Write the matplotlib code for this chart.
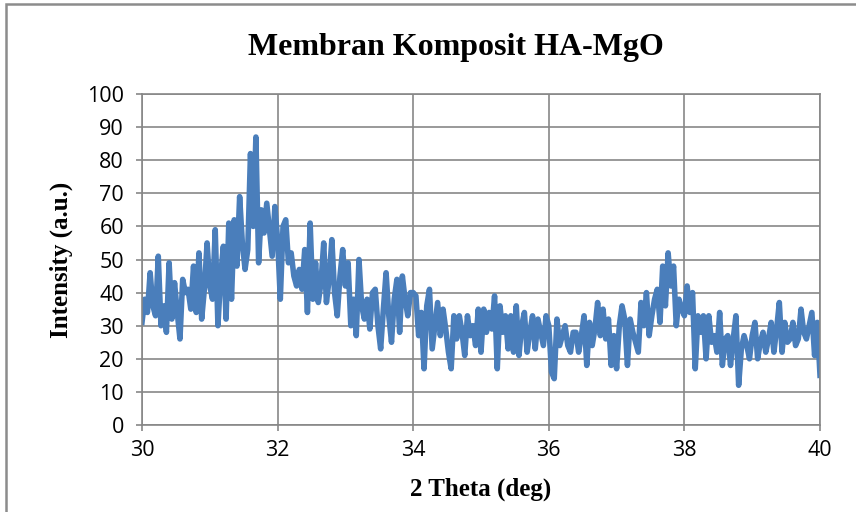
import matplotlib.pyplot as plt
import numpy as np
from matplotlib.patches import Rectangle

# XRD scan of the HA-MgO composite membrane, 0.04 deg steps from 30 to 40
two_theta = np.linspace(30.0, 40.0, 251)
intensity = [
    # 30.00 - 30.96
    31, 38, 34, 46, 36, 33, 51, 30, 36, 28, 49, 32, 43, 34, 26, 44, 40, 41, 35, 48, 34, 52, 32, 41, 55,
    # 31.00 - 31.96
    42, 38, 59, 30, 45, 54, 32, 61, 38, 62, 48, 69, 55, 47, 53, 82, 60, 87, 49, 65, 58, 67, 59, 51, 66,
    # 32.00 - 32.96
    56, 38, 60, 62, 49, 52, 45, 42, 47, 41, 53, 34, 61, 38, 49, 37, 43, 55, 37, 44, 56, 40, 33, 45, 53,
    # 33.00 - 33.96
    42, 49, 30, 38, 27, 50, 36, 32, 38, 29, 40, 41, 30, 23, 35, 46, 33, 25, 38, 44, 28, 45, 38, 33, 40,
    # 34.00 - 34.96
    40, 39, 27, 34, 17, 36, 41, 23, 30, 37, 27, 35, 29, 22, 17, 33, 26, 33, 28, 21, 33, 27, 30, 24, 35,
    # 35.00 - 35.96
    22, 35, 28, 34, 29, 39, 17, 36, 28, 33, 23, 33, 22, 36, 21, 30, 34, 22, 28, 33, 23, 32, 28, 24, 33,
    # 36.00 - 36.96
    30, 16, 14, 32, 24, 27, 30, 24, 22, 28, 28, 22, 27, 33, 18, 31, 24, 29, 37, 27, 35, 26, 32, 18, 27,
    # 37.00 - 37.96
    17, 30, 36, 32, 18, 32, 28, 25, 22, 37, 30, 40, 27, 33, 38, 41, 31, 48, 36, 52, 42, 48, 30, 38, 35,
    # 38.00 - 38.96
    33, 42, 34, 40, 17, 33, 28, 33, 20, 33, 25, 27, 22, 34, 18, 26, 27, 18, 26, 33, 12, 23, 27, 24, 20,
    # 39.00 - 40.00
    27, 31, 20, 25, 28, 22, 26, 31, 22, 29, 37, 22, 31, 25, 26, 31, 24, 26, 35, 28, 26, 30, 34, 21, 31, 15,
]

x_ticks = [30, 32, 34, 36, 38, 40]
y_ticks = list(range(0, 101, 10))

grid_color = '#878787'
line_color = '#4A7EBB'

fig = plt.figure(figsize=(8.56, 5.12), dpi=100)
ax = fig.add_axes([142 / 856, 1 - 425 / 512, (820 - 142) / 856, (425 - 94) / 512])

ax.plot(two_theta, intensity, color=line_color, linewidth=4.0, solid_joinstyle='round')

ax.set_xlim(30, 40)
ax.set_ylim(0, 100)
ax.set_xticks(x_ticks)
ax.set_yticks(y_ticks)
ax.grid(True, color=grid_color, linewidth=1.2)
ax.set_axisbelow(True)
for side in ax.spines.values():
    side.set_color(grid_color)
    side.set_linewidth(1.2)
ax.tick_params(axis='both', colors=grid_color, length=4, width=1.2,
               labelcolor='black', labelsize=15.5)
ax.tick_params(axis='x', pad=7)
ax.tick_params(axis='y', pad=9)
for lab in ax.get_xticklabels() + ax.get_yticklabels():
    lab.set_family('Open Sans')

ax.set_xlabel('2 Theta (deg)', family='Liberation Serif', fontweight='bold',
              fontsize=18, labelpad=12)
ax.set_ylabel('Intensity (a.u.)', family='Liberation Serif', fontweight='bold',
              fontsize=18, labelpad=10)
fig.text(456 / 856, 1 - 47 / 512, 'Membran Komposit HA-MgO', family='Liberation Serif',
         fontweight='bold', fontsize=23, ha='center', va='center')

# chart frame, open to the right and bottom edges
fig.patches.append(Rectangle((6 / 856, -0.05), 1.0, 1 - 4 / 512 + 0.05,
                             transform=fig.transFigure, fill=False,
                             edgecolor='#8c8c8c', linewidth=1.8))

fig.savefig('out.png', dpi=100)
